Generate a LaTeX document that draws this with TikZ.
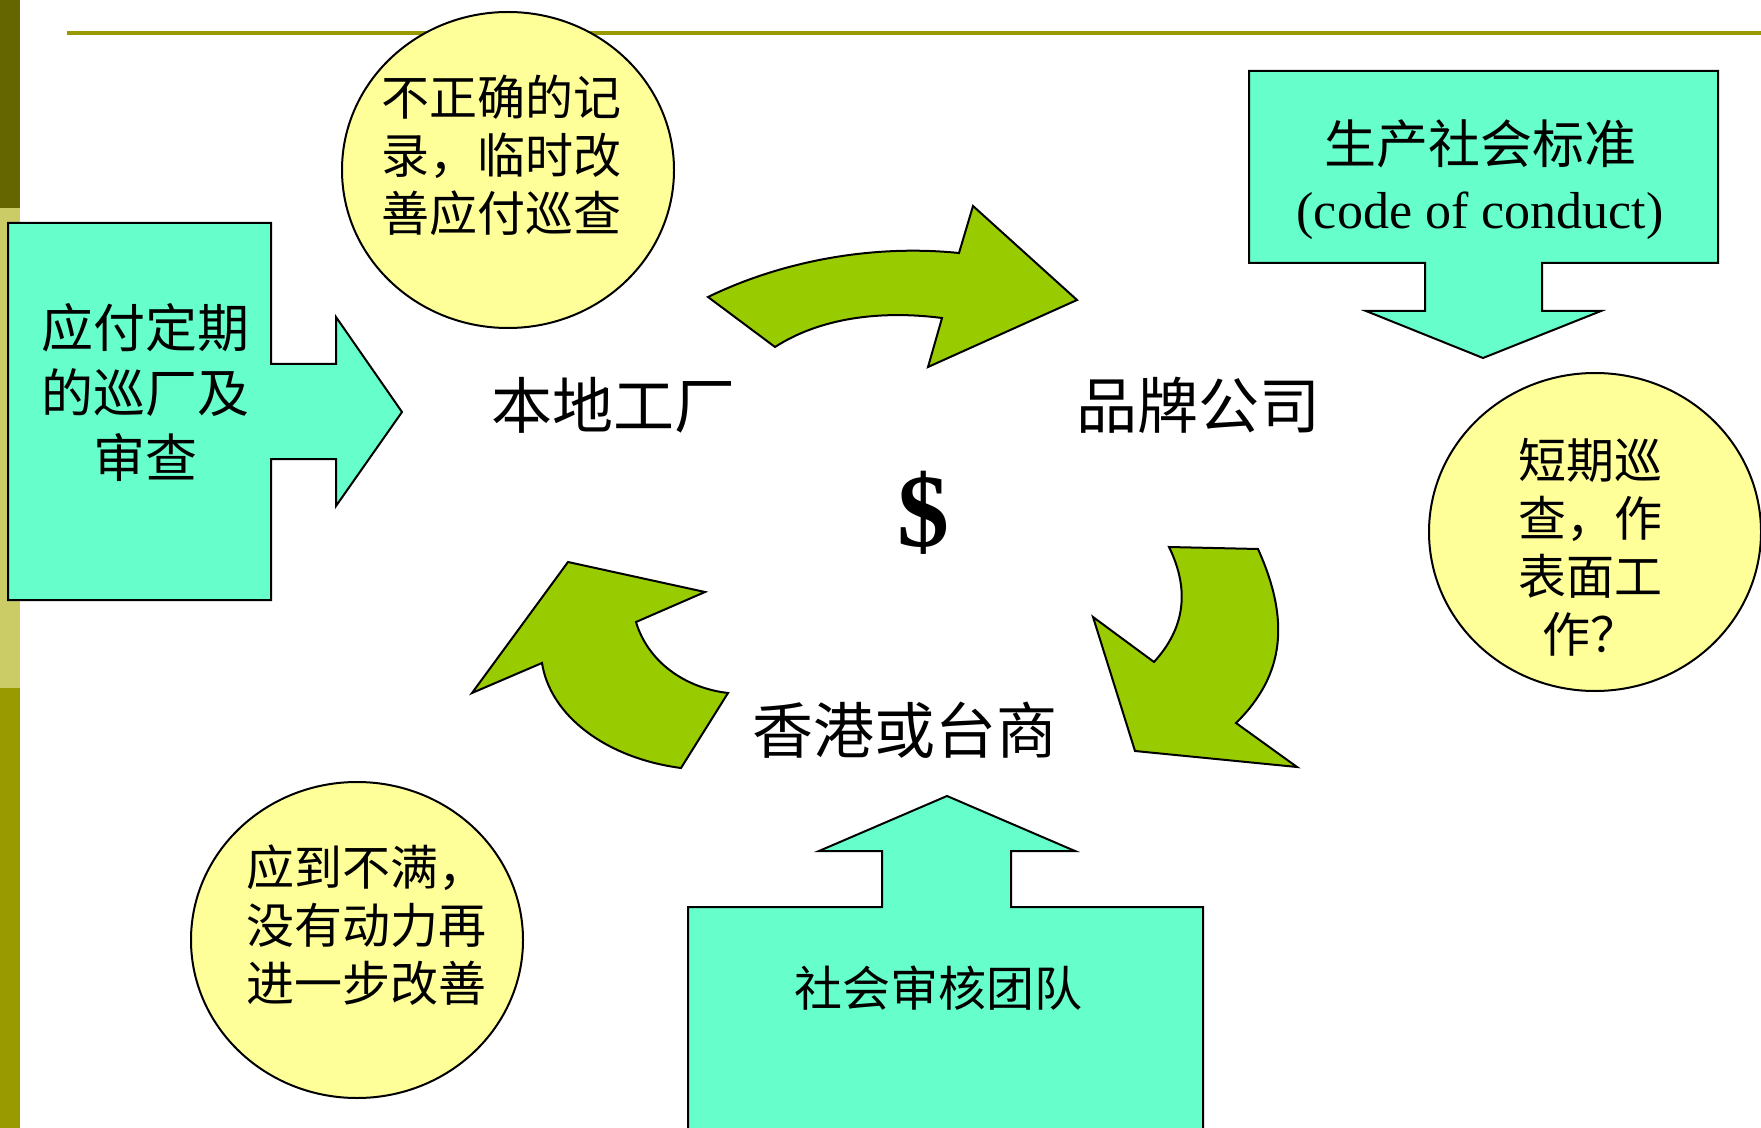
\documentclass[tikz,border=0pt]{standalone}
\usepackage{fontspec}
\setmainfont{Liberation Serif}
\newfontfamily\cjk{Noto Sans CJK SC}
\usetikzlibrary{shapes.geometric}
\definecolor{tealc}{HTML}{66FFCC}
\definecolor{yellowc}{HTML}{FFFF99}
\definecolor{greenc}{HTML}{99CC00}
\definecolor{olivedark}{HTML}{666600}
\definecolor{olivelight}{HTML}{CCCC66}
\definecolor{olivec}{HTML}{999900}
\begin{document}
\begin{tikzpicture}[x=0.5pt,y=-0.5pt,
  tealshape/.style={fill=tealc,draw=black,line width=1pt,line join=miter},
  greenarrow/.style={fill=greenc,draw=black,line width=1pt,line join=miter},
  bubble/.style={ellipse,fill=yellowc,draw=black,line width=1pt,inner sep=0pt},
  boxtext/.style={align=center,inner sep=0pt,font=\cjk\fontsize{26pt}{32.5pt}\selectfont},
  bubbletext/.style={align=center,inner sep=0pt,font=\cjk\fontsize{24pt}{29pt}\selectfont},
  label/.style={inner sep=0pt,font=\cjk\fontsize{30.5pt}{36pt}\selectfont}]
\useasboundingbox (0,0) rectangle (1761,1128);
\fill[white] (0,0) rectangle (1761,1128);
% left bar
\fill[olivedark] (0,0) rectangle (20,208);
\fill[olivelight] (0,208) rectangle (20,688);
\fill[olivec] (0,688) rectangle (20,1128);
% top line
\draw[olivec,line width=1.6pt] (67,33) -- (1761,33);

% left box with arrow
\draw[tealshape] (8,223) -- (271,223) -- (271,364) -- (336,364) -- (336,317) -- (402,412)
  -- (336,506) -- (336,459) -- (271,459) -- (271,600) -- (8,600) -- cycle;
\node[boxtext] (lefttext) at (145,392) {应付定期\\的巡厂及\\审查};

% top-right box with arrow
\draw[tealshape] (1249,71) -- (1718,71) -- (1718,263) -- (1542,263) -- (1542,311) -- (1601,311)
  -- (1483,358) -- (1366,311) -- (1425,311) -- (1425,263) -- (1249,263) -- cycle;
\node[boxtext] (coctext) at (1480,180) {生产社会标准\\{\rmfamily(code of conduct)}};

% bottom box with arrow
\draw[tealshape] (688,1140) -- (688,907) -- (882,907) -- (882,851) -- (819,851) -- (947,796)
  -- (1075,851) -- (1011,851) -- (1011,907) -- (1203,907) -- (1203,1140);
\node[inner sep=0pt,font=\cjk\fontsize{24pt}{29pt}\selectfont] (audit) at (938,988) {社会审核团队};

% bubbles
\node[bubble,minimum width=166pt,minimum height=158pt] (b1) at (508,170) {};
\node[bubbletext] (b1t) at (501,155) {不正确的记\\录，临时改\\善应付巡查};
\node[bubble,minimum width=166pt,minimum height=159pt] (b2) at (1595,532) {};
\node[bubbletext] (b2t) at (1590,547) {短期巡\\查，作\\表面工\\作？};
\node[bubble,minimum width=166pt,minimum height=158pt] (b3) at (357,940) {};
\node[bubbletext] (b3t) at (366,925) {应到不满，\\没有动力再\\进一步改善};

% curved arrows
\draw[greenarrow] (775,347) -- (708,297) .. controls (780,262) and (870,244) .. (959,253)
  -- (973,206) -- (1077,300) -- (928,367) -- (942,318)
  .. controls (880,310) and (820,318) .. (775,347) -- cycle;
\draw[greenarrow] (1169,547) -- (1258,549) .. controls (1290,620) and (1285,675) .. (1236,723)
  -- (1297,767) -- (1135,751) -- (1093,617) -- (1154,662)
  .. controls (1185,628) and (1190,590) .. (1169,547) -- cycle;
\draw[greenarrow] (728,693) -- (681,768) .. controls (605,758) and (550,715) .. (542,663)
  -- (472,693) -- (568,562) -- (705,592) -- (636,622)
  .. controls (648,662) and (685,688) .. (728,693) -- cycle;

% labels
\node[label] (factory) at (613,405) {本地工厂};
\node[label] (brand) at (1198,405) {品牌公司};
\node[label] (hktw) at (905,730) {香港或台商};
\node[inner sep=0pt,font=\bfseries\fontsize{52pt}{60pt}\selectfont] (dollar) at (923,513) {\$};
\end{tikzpicture}
\end{document}
